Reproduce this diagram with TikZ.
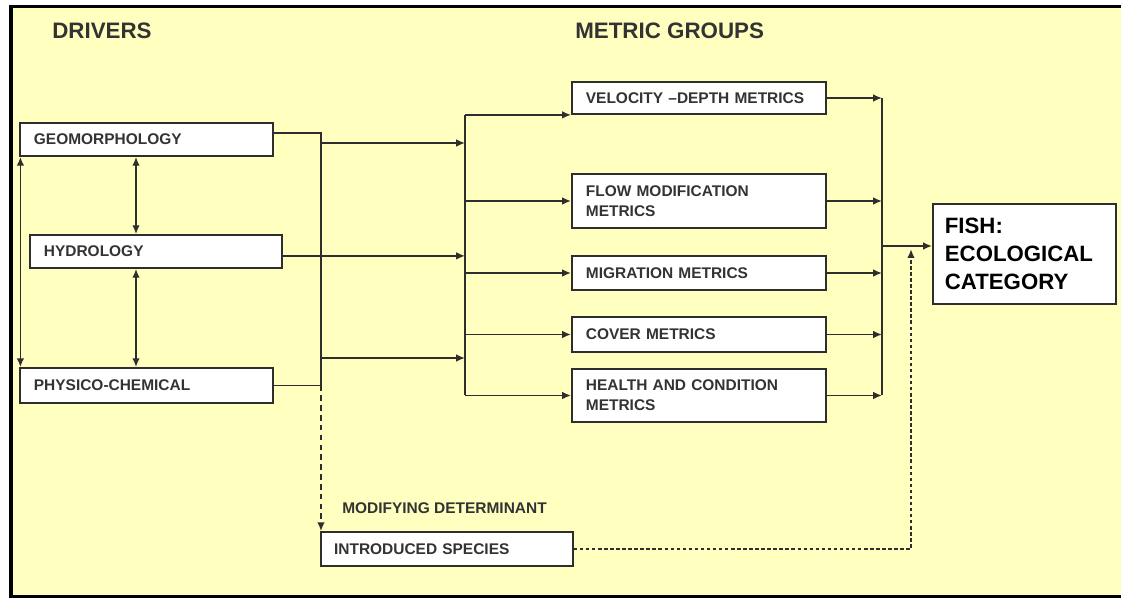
\documentclass[tikz,border=0pt]{standalone}
\usepackage{fontspec}
\setmainfont{Liberation Sans}
\usetikzlibrary{arrows.meta,positioning}
\definecolor{Amarillo}{HTML}{FFFFC0}
\definecolor{Trazo}{HTML}{2E2E2E}
\definecolor{Letra}{HTML}{333333}
\hyphenpenalty=10000

\begin{document}
\begin{tikzpicture}[
  font=\bfseries\fontsize{11}{14.2}\selectfont,
  text=Letra,
  caja/.style={draw=Trazo,line width=1.3pt,fill=white,anchor=west,align=left,
    inner xsep=0.35cm,inner ysep=0pt,text width=5.63cm},
  titulo/.style={anchor=west,inner sep=0pt,font=\bfseries\fontsize{15.9}{19}\selectfont},
  linea/.style={Trazo,line width=1.2pt},
  flecha/.style={-{Latex[length=2.2mm,width=1.9mm]},Trazo,line width=1.2pt},
  doble/.style={{Latex[length=2.2mm,width=1.9mm]}-{Latex[length=2.2mm,width=1.9mm]},Trazo,line width=1.2pt}
]
  \useasboundingbox (0,0) rectangle (28.025,14.95);
  % marco amarillo, abierto a la derecha
  \fill[Amarillo] (0.275,0.04) rectangle (28.025,14.79);
  \draw[black,line width=2.2pt] (28.025,14.79) -- (0.275,14.79) -- (0.275,0.0375) -- (28.025,0.0375);

  % titulos
  \node[titulo] (drivers) at (1.3,14.175) {DRIVERS};
  \node[titulo] (metricas) at (14.375,14.175) {METRIC GROUPS};

  % impulsores
  \node[caja,minimum height=0.825cm] (geo) at (0.475,11.4625) {GEOMORPHOLOGY};
  \node[caja,minimum height=0.825cm,text width=5.6cm] (hydro) at (0.725,8.6625) {HYDROLOGY};
  \node[caja,minimum height=0.875cm] (physico) at (0.475,5.3125) {PHYSICO-CHEMICAL};

  % grupos de metricas
  \node[caja,minimum height=0.8cm,text width=5.65cm] (velocity) at (14.275,12.5) {VELOCITY --DEPTH METRICS};
  \node[caja,minimum height=1.35cm,text width=5.65cm] (flow) at (14.275,9.925) {FLOW MODIFICATION\\METRICS};
  \node[caja,minimum height=0.85cm,text width=5.65cm] (migration) at (14.275,8.125) {MIGRATION METRICS};
  \node[caja,minimum height=0.875cm,text width=5.65cm] (cover) at (14.275,6.5875) {COVER METRICS};
  \node[caja,minimum height=1.325cm,text width=5.65cm] (health) at (14.275,5.0625) {HEALTH AND CONDITION\\METRICS};

  % resultado y determinante
  \node[caja,minimum height=2.5cm,inner xsep=0.3cm,text width=3.975cm,
    font=\bfseries\fontsize{15.8}{19.9}\selectfont,text=black] (fish) at (23.3,8.6)
    {FISH:\\ECOLOGICAL\\CATEGORY};
  \node[caja,minimum height=0.85cm,inner xsep=0.33cm,text width=5.64cm] (intro) at (8.0,1.225) {INTRODUCED SPECIES};
  \node[anchor=west,inner sep=0pt] (modif) at (8.55,2.25) {MODIFYING DETERMINANT};

  % puntos de reparto
  \coordinate (divide) at (8.025,0);
  \coordinate (reparto) at (11.625,0);
  \coordinate (colector) at (22.05,0);
  \coordinate (eje) at (3.4,0);
  \coordinate (J) at (divide |- physico.east);
  \coordinate (s1) at (8.025,11.375);
  \coordinate (s2) at (8.025,6.0);
  \path (geo.east) ++(0,0.16) coordinate (g0);
  \path (hydro.east) ++(0,-0.11) coordinate (h0);
  \path (fish.west) ++(0,0.2) coordinate (f0);
  \coordinate (m1) at (22.775,8.72);

  % enlaces entre impulsores
  \draw[doble] ([xshift=1pt]geo.south west) -- ([xshift=1pt]physico.north west);
  \draw[doble] (eje |- geo.south) -- (eje |- hydro.north);
  \draw[doble] (eje |- hydro.south) -- (eje |- physico.north);

  % impulsores hacia las metricas
  \draw[linea] (g0) -| (J) -- (physico.east);
  \draw[flecha] (s1) -- (s1 -| reparto);
  \draw[flecha] (h0) -- (h0 -| reparto);
  \draw[flecha] (s2) -- (s2 -| reparto);
  \draw[linea] (reparto |- velocity.south west) -- (reparto |- health.west);
  \draw[flecha] (reparto |- velocity.south west) -- (velocity.south west);
  \foreach \m in {flow,migration,cover,health}
    {\draw[flecha] (reparto |- \m.west) -- (\m.west);}

  % metricas hacia la categoria
  \foreach \m in {velocity,flow,migration,cover,health}
    {\draw[flecha] (\m.east) -- (\m.east -| colector);}
  \draw[linea] (colector |- velocity.east) -- (colector |- health.east);
  \draw[flecha] (f0 -| colector) -- (f0);

  % determinante modificador
  \draw[flecha,dash pattern=on 4pt off 3pt] (J) -- (J |- intro.north);
  \draw[flecha,dash pattern=on 2.5pt off 1.8pt] (intro.east) -| (m1);
\end{tikzpicture}
\end{document}
